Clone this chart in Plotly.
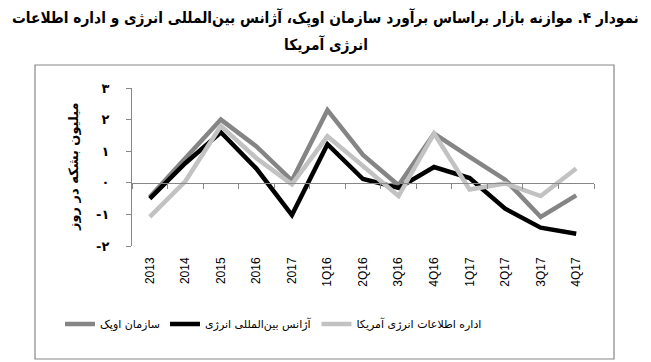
import plotly.graph_objects as go

categories = ["2013", "2014", "2015", "2016", "2017", "1Q16", "2Q16", "3Q16",
              "4Q16", "1Q17", "2Q17", "3Q17", "4Q17"]
opec = [-0.45, 0.8, 2.0, 1.15, 0.07, 2.3, 0.88, -0.08, 1.56, 0.82, 0.1, -1.08, -0.4]
iea = [-0.5, 0.62, 1.6, 0.45, -1.02, 1.22, 0.12, -0.16, 0.5, 0.15, -0.82, -1.42, -1.61]
eia = [-1.08, 0.05, 1.8, 0.78, -0.05, 1.47, 0.53, -0.42, 1.56, -0.21, -0.02, -0.42, 0.45]
series_names = ["سازمان اوپک", "آژانس بین‌المللی انرژی", "اداره اطلاعات انرژی آمریکا"]
series_colors = ["#858585", "#000000", "#c2c2c2"]
y_tickvals = [-2, -1, 0, 1, 2, 3]
y_ticktext = ["<b>-۲</b>", "<b>-۱</b>", "<b>۰</b>", "<b>۱</b>", "<b>۲</b>", "<b>۳</b>"]
title_line1 = "<b>نمودار ۴. موازنه بازار براساس برآورد سازمان اوپک، آژانس بین‌المللی انرژی و اداره اطلاعات</b>"
title_line2 = "<b>انرژی آمریکا</b>"
y_title = "<b>میلیون بشکه در روز</b>"

W, H = 651, 362
L, R, T, B = 132, 57, 88, 116
pw, ph = W - L - R, H - T - B

def px_x(x):
    return (x - L) / pw

def px_y(y):
    return (H - B - y) / ph

fig = go.Figure()
for vals, name, col in zip([opec, iea, eia], series_names, series_colors):
    fig.add_trace(go.Scatter(x=categories, y=vals, mode="lines", name=name,
                             line=dict(color=col, width=4.5)))

# invisible trace on xaxis2 to draw the zero-crossing category axis
fig.add_trace(go.Scatter(x=categories, y=[None] * len(categories), xaxis="x2",
                         showlegend=False, hoverinfo="skip"))

title_font = dict(family="DejaVu Sans Condensed, DejaVu Sans", size=15.3, color="black")

fig.update_layout(
    width=W, height=H,
    margin=dict(l=L, r=R, t=T, b=B),
    paper_bgcolor="white", plot_bgcolor="white",
    xaxis=dict(type="category", range=[-0.5, 12.5], showline=False, showgrid=False,
               zeroline=False, ticks="", tickangle=-90, ticklabelstandoff=8,
               tickfont=dict(family="Liberation Sans", size=12, color="black")),
    xaxis2=dict(type="category", range=[-0.5, 12.5], overlaying="x", anchor="free",
                position=0.4, showline=True, linecolor="#878787", linewidth=1,
                ticks="outside", ticklen=5, tickcolor="#878787", tickson="boundaries",
                showticklabels=False, showgrid=False, zeroline=False),
    yaxis=dict(range=[-2, 3], tickvals=y_tickvals, ticktext=y_ticktext,
               showline=True, linecolor="#878787", linewidth=1, ticks="outside",
               ticklen=5, tickcolor="#878787", showgrid=False, zeroline=False,
               ticklabelstandoff=14,
               tickfont=dict(family="DejaVu Sans", size=13, color="black")),
    legend=dict(orientation="h", x=px_x(60), xanchor="left", y=px_y(324),
                yanchor="middle", font=dict(family="DejaVu Sans", size=11, color="black"),
                bgcolor="rgba(0,0,0,0)"),
    showlegend=True,
    annotations=[
        dict(text=title_line1, xref="paper", yref="paper", x=px_x(325.5), y=px_y(18),
             xanchor="center", yanchor="middle", showarrow=False, font=title_font),
        dict(text=title_line2, xref="paper", yref="paper", x=px_x(325.5), y=px_y(44),
             xanchor="center", yanchor="middle", showarrow=False, font=title_font),
        dict(text=y_title, xref="paper", yref="paper", x=px_x(73), y=px_y(167),
             xanchor="center", yanchor="middle", textangle=-90, showarrow=False,
             font=dict(family="DejaVu Sans", size=13, color="black")),
    ],
    shapes=[dict(type="rect", xref="paper", yref="paper", x0=px_x(35), x1=px_x(614),
                 y0=px_y(359), y1=px_y(65), line=dict(color="#878787", width=1.2),
                 fillcolor="rgba(0,0,0,0)", layer="below")],
)

fig.write_html("out.html")
